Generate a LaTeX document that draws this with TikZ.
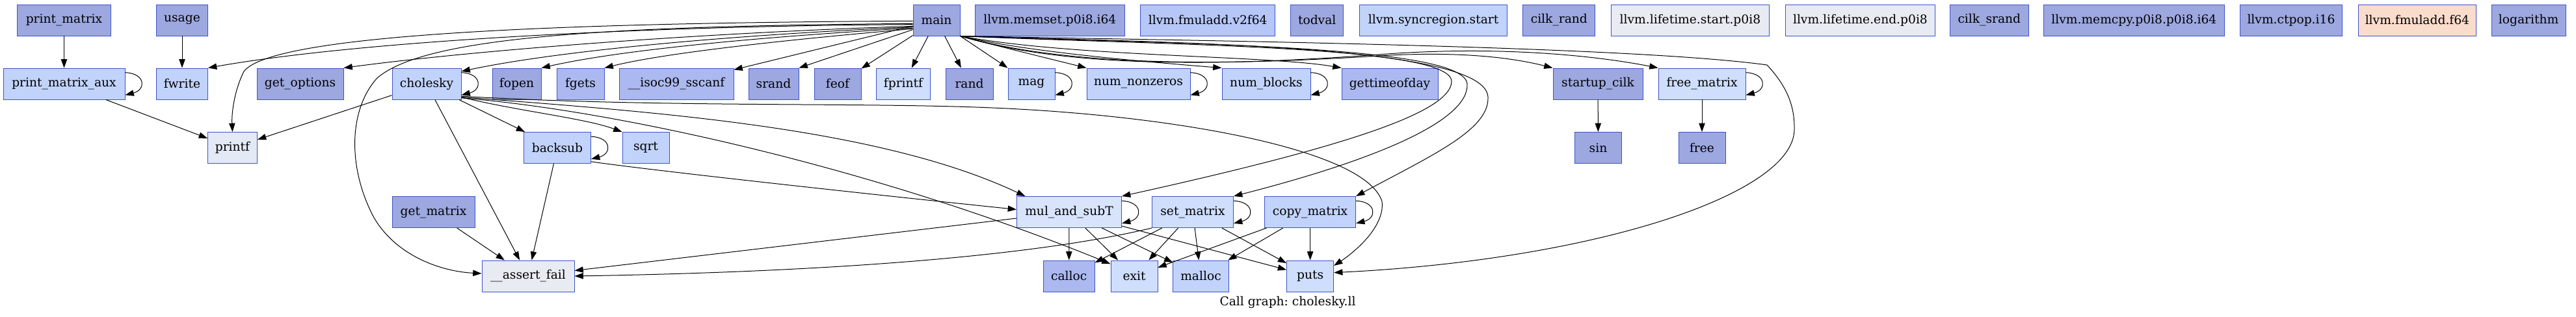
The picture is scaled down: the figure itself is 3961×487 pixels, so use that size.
\documentclass[tikz,border=0pt]{standalone}
\usepackage{fontspec}
\setmainfont{DejaVu Serif}
\usetikzlibrary{arrows.meta}
\definecolor{bord}{HTML}{3D52C8}
\definecolor{ca}{HTML}{9DA8E0}
\definecolor{cb}{HTML}{ABB9F0}
\definecolor{cbb}{HTML}{B5C6F7}
\definecolor{cc}{HTML}{C2D3FB}
\definecolor{cd}{HTML}{CFDEFC}
\definecolor{ce}{HTML}{D8E4FC}
\definecolor{cf}{HTML}{E4E9F6}
\definecolor{cg}{HTML}{E8ECF2}
\definecolor{peach}{HTML}{F9DCCC}
\frenchspacing
\newcommand\myloop[1]{\draw[e] ([yshift=13pt]#1.east) .. controls +(24pt,-1pt) and +(24pt,6pt) .. ([yshift=-13pt]#1.east);}
\begin{document}
\begin{tikzpicture}[x=0.75pt,y=-0.75pt,
  fn/.style={draw=bord, line width=0.7pt, rectangle, inner sep=0pt, minimum height=36pt, font=\fontsize{14}{16}\selectfont, text=black},
  bw/.style={minimum width=#1*0.75pt},
  e/.style={draw=black, line width=0.75pt, -{Triangle[length=10pt,width=7pt]}}]
\useasboundingbox (0,0) rectangle (3961,487);
% row 1
\node[fn,bw=143.5,fill=ca] (pm) at (98.5,31) {print\_matrix};
\node[fn,bw=79,fill=ca] (usage) at (280,31) {usage};
\node[fn,bw=72,fill=ca] (main) at (1440,31) {main};
\node[fn,bw=230.6,fill=ca] (memset) at (1614.3,31) {llvm.memset.p0i8.i64};
\node[fn,bw=206.7,fill=cbb] (fmav) at (1857.2,31) {llvm.fmuladd.v2f64};
\node[fn,bw=81,fill=ca] (todval) at (2025.2,31) {todval};
\node[fn,bw=227,fill=cc] (sync) at (2204.1,31) {llvm.syncregion.start};
\node[fn,bw=111,fill=ca] (cilkrand) at (2397.3,31) {cilk\_rand};
\node[fn,bw=243.7,fill=cg] (lts) at (2598.9,31) {llvm.lifetime.start.p0i8};
\node[fn,bw=230.8,fill=cg] (lte) at (2860.4,31) {llvm.lifetime.end.p0i8};
\node[fn,bw=120.5,fill=ca] (cilksrand) at (3058.8,31) {cilk\_srand};
\node[fn,bw=277.4,fill=ca] (memcpy) at (3281.3,31) {llvm.memcpy.p0i8.p0i8.i64};
\node[fn,bw=157.8,fill=ca] (ctpop) at (3522.9,31) {llvm.ctpop.i16};
\node[fn,bw=181.8,fill=peach] (fmaf) at (3716.9,31) {llvm.fmuladd.f64};
\node[fn,bw=114,fill=ca] (logarithm) at (3888,31) {logarithm};
% row 2
\node[fn,bw=187,fill=cc] (pma) at (98.5,129) {print\_matrix\_aux};
\node[fn,bw=79,fill=cc] (fwrite) at (280,129) {fwrite};
\node[fn,bw=133,fill=ca] (getopt) at (461.5,129) {get\_options};
\node[fn,bw=106,fill=cc] (chol) at (656,129) {cholesky};
\node[fn,bw=75,fill=ca] (fopen) at (794.5,129) {fopen};
\node[fn,bw=73,fill=cb] (fgets) at (892.5,129) {fgets};
\node[fn,bw=176,fill=cb] (sscanf) at (1040,129) {\_\_isoc99\_sscanf};
\node[fn,bw=77,fill=ca] (srand) at (1189.5,129) {srand};
\node[fn,bw=72,fill=ca] (feof) at (1288,129) {feof};
\node[fn,bw=83,fill=cd] (fprintf) at (1389,129) {fprintf};
\node[fn,bw=73,fill=ca] (rand) at (1490.5,129) {rand};
\node[fn,bw=72,fill=cc] (mag) at (1586,129) {mag};
\node[fn,bw=159,fill=cc] (nnz) at (1750.5,129) {num\_nonzeros};
\node[fn,bw=136,fill=cc] (nblk) at (1947,129) {num\_blocks};
\node[fn,bw=148,fill=cb] (gtod) at (2137,129) {gettimeofday};
\node[fn,bw=138,fill=ca] (startup) at (2457,129) {startup\_cilk};
\node[fn,bw=134,fill=cd] (freem) at (2617,129) {free\_matrix};
% row 3
\node[fn,bw=76,fill=cf] (printf) at (357.5,227.5) {printf};
\node[fn,bw=103,fill=cc] (backsub) at (857,227.5) {backsub};
\node[fn,bw=72,fill=cc] (sqrt) at (993,227.5) {sqrt};
\node[fn,bw=72,fill=ca] (sin) at (2457.5,227.5) {sin};
\node[fn,bw=72,fill=ca] (free) at (2617,227.5) {free};
% row 4
\node[fn,bw=127,fill=ca] (getm) at (666.5,326.5) {get\_matrix};
\node[fn,bw=161,fill=ce] (mul) at (1644,326.5) {mul\_and\_subT};
\node[fn,bw=125,fill=cd] (setm) at (1834,326.5) {set\_matrix};
\node[fn,bw=140,fill=cc] (copym) at (2014.6,326.5) {copy\_matrix};
% row 5
\node[fn,bw=142,fill=cg] (assert) at (812,425) {\_\_assert\_fail};
\node[fn,bw=79,fill=cb] (calloc) at (1643.7,425) {calloc};
\node[fn,bw=72,fill=cd] (exit) at (1744,425) {exit};
\node[fn,bw=85.4,fill=cc] (malloc) at (1846.5,425) {malloc};
\node[fn,bw=72,fill=cd] (puts) at (2014.6,425) {puts};
\node[inner sep=0pt,font=\fontsize{14}{16}\selectfont] (title) at (1980,465) {Call graph: cholesky.ll};
% simple edges
\draw[e] (pm) -- (pma);
\draw[e] (usage) -- (fwrite);
\draw[e] (pma) -- (printf);
\myloop{pma}
\draw[e] (startup) -- (sin);
\draw[e] (freem) -- (free);
\myloop{freem}
\myloop{mag}
\myloop{nnz}
\myloop{nblk}
% main leftwards
\draw[e] ([yshift=-1pt]main.west) .. controls (900,35) and (420,50) .. (375,110) .. controls (360,140) and (356,175) .. (printf.north);
\draw[e] ([yshift=-5pt]main.west) .. controls (1000,40) and (560,62) .. (fwrite.north east);
\draw[e] ([yshift=-4pt]main.west) .. controls (900,40) and (650,60) .. (580,120) .. controls (535,170) and (535,260) .. (575,335) .. controls (610,395) and (680,418) .. ([yshift=3pt]assert.west);
\draw[e] ([yshift=-7pt]main.west) .. controls (1100,50) and (750,75) .. (getopt.north east);
\draw[e] ([yshift=-8pt]main.west) .. controls (1100,55) and (850,80) .. ([yshift=-4pt]chol.north east);
\draw[e] ([yshift=-9pt]main.west) .. controls (1150,58) and (950,78) .. (fopen.north east);
\draw[e] ([yshift=-10pt]main.west) .. controls (1200,62) and (1020,82) .. (fgets.north east);
\draw[e] (main) -- (sscanf);
\draw[e] ([yshift=-11pt]main.west) -- (srand.north east);
\draw[e] (main) -- (feof);
\draw[e] (main) -- (fprintf);
\draw[e] (main) -- (rand);
\draw[e] (main) -- (mag);
% main rightwards
\draw[e] (main.south east) .. controls (1550,75) and (1620,92) .. (nnz.north west);
\draw[e] (main.south east) .. controls (1580,80) and (1760,95) .. (nblk.north west);
\draw[e] (main.south east) .. controls (1650,88) and (1950,85) .. (gtod.north west);
\draw[e] (main.south east) .. controls (1650,105) and (1900,100) .. (2120,86) .. controls (2250,78) and (2330,90) .. (startup.north west);
\draw[e] (main.south east) .. controls (1650,108) and (1900,100) .. (2120,84) .. controls (2300,70) and (2450,85) .. (freem.north west);
\draw[e] (main.south east) .. controls (1800,70) and (2230,70) .. (2232,125) .. controls (2232,175) and (2050,230) .. (mul.north east);
\draw[e] (main.south east) .. controls (1800,68) and (2256,68) .. (2256,130) .. controls (2258,185) and (2120,245) .. (setm.north east);
\draw[e] (main.south east) .. controls (1800,66) and (2287,68) .. (2288,150) .. controls (2290,200) and (2200,240) .. (copym.north east);
\draw[e] (main.south east) .. controls (1800,62) and (2500,70) .. (2717,100) .. controls (2745,130) and (2760,160) .. (2759,200) .. controls (2757,300) and (2450,400) .. ([yshift=4pt]puts.east);
% cholesky
\myloop{chol}
\draw[e] (chol) -- (printf);
\draw[e] (chol) -- (backsub);
\draw[e] (chol) -- (assert);
\draw[e] ([yshift=3pt]chol.south east) .. controls (790,170) and (900,182) .. (sqrt.north west);
\draw[e] ([yshift=3pt]chol.south east) .. controls (1000,172) and (1350,195) .. ([xshift=10pt]mul.north west);
\draw[e] ([yshift=2pt]chol.south east) .. controls (950,170) and (1350,260) .. ([yshift=14pt]exit.west);
\draw[e] ([yshift=4pt]chol.south east) .. controls (1000,165) and (1300,158) .. (1500,165) .. controls (1800,175) and (2100,230) .. (2125,310) .. controls (2130,350) and (2080,390) .. ([yshift=12pt]puts.east);
% backsub
\myloop{backsub}
\draw[e] (backsub) -- (assert);
\draw[e] ([yshift=-16pt]backsub.east) .. controls (1000,262) and (1300,295) .. ([yshift=3pt]mul.west);
\draw[e] (getm) -- (assert);
% mul_and_subT
\myloop{mul}
\draw[e] (mul) -- (calloc);
\draw[e] (mul) -- (exit);
\draw[e] (mul) -- (malloc);
\draw[e] (mul) -- (puts);
\draw[e] (mul) -- (assert);
% set_matrix
\myloop{setm}
\draw[e] (setm) -- (calloc);
\draw[e] (setm) -- (exit);
\draw[e] (setm) -- (malloc);
\draw[e] (setm) -- (puts);
\draw[e] (setm.south west) .. controls (1600,392) and (1300,418) .. (assert.east);
% copy_matrix
\myloop{copym}
\draw[e] (copym) -- (exit);
\draw[e] (copym) -- (malloc);
\draw[e] (copym) -- (puts);
\end{tikzpicture}
\end{document}
